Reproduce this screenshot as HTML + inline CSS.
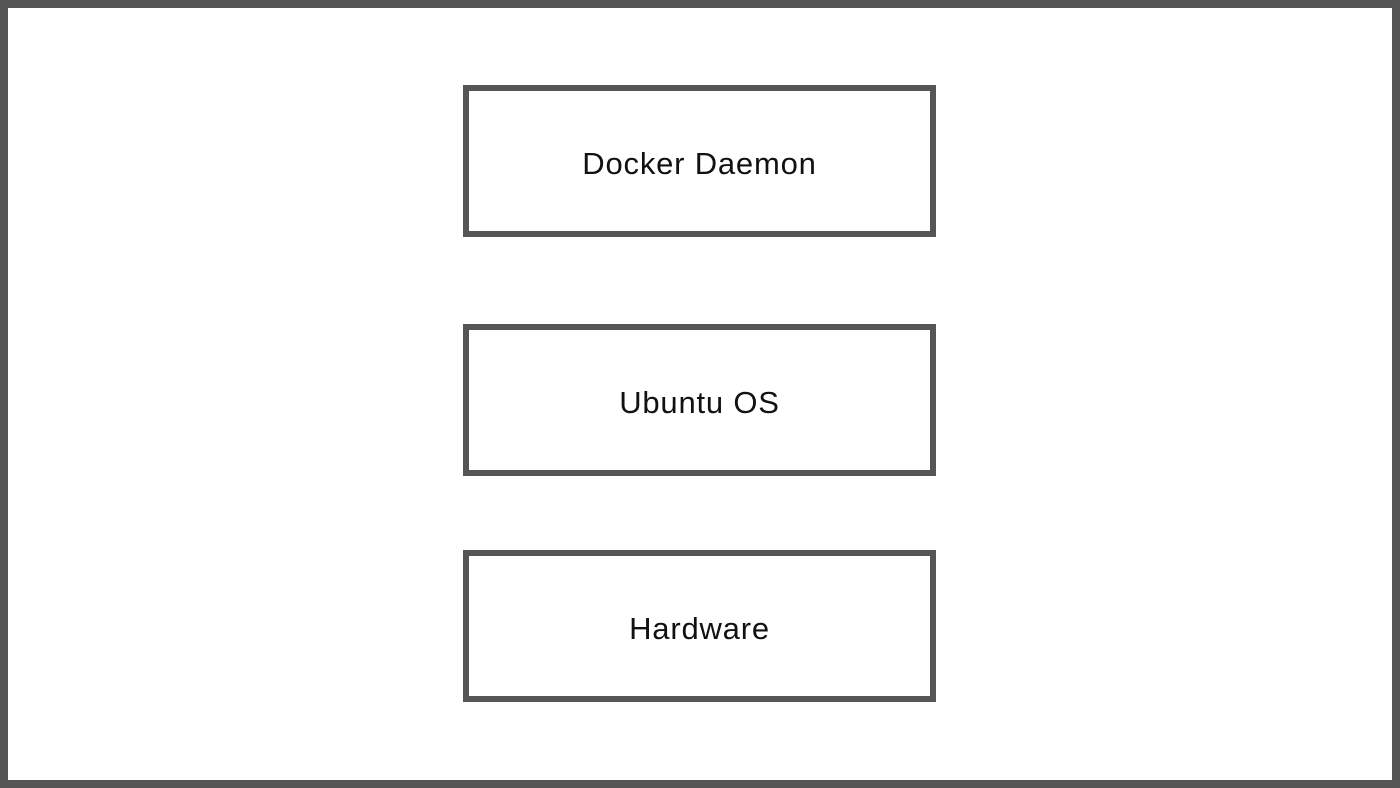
<!DOCTYPE html>
<html><head><meta charset="utf-8"><style>
html,body{margin:0;padding:0;}
body{width:1400px;height:788px;position:relative;background:#fff;overflow:hidden;font-family:"Liberation Sans",sans-serif;}
.frame{position:absolute;left:0;top:0;width:1384px;height:772px;border:8px solid #555;}
.box{position:absolute;left:463px;width:461px;height:140px;border:6px solid #555;display:flex;align-items:center;justify-content:center;font-size:31px;letter-spacing:0.8px;color:#111;background:#fff;}
.box span{position:relative;top:3px;}
</style></head><body>
<div class="frame"></div>
<div class="box" style="top:85px"><span>Docker Daemon</span></div>
<div class="box" style="top:324px"><span>Ubuntu OS</span></div>
<div class="box" style="top:550px"><span>Hardware</span></div>
</body></html>
